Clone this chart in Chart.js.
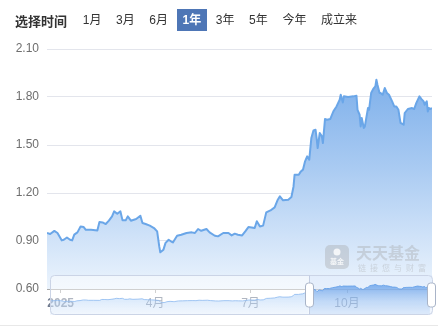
<!DOCTYPE html>
<html>
<head>
<meta charset="utf-8">
<title>净值走势</title>
<script src="https://cdn.jsdelivr.net/npm/chart.js@4.4.1/dist/chart.umd.min.js"></script>
<style>
  body { margin: 0; background: #fff; font-family: "Liberation Sans", "Noto Sans CJK SC", sans-serif; }
  #wrap { position: relative; width: 438px; height: 329px; overflow: hidden; }
  #nav-chart { position: absolute; left: 0; top: 0; }
  #mini-chart { position: absolute; left: 46px; top: 275px; }
  #period-bar { position: absolute; left: 15px; top: 9px; height: 22px; display: flex; align-items: center; font-size: 12px; color: #333; }
  #period-bar .title { font-size: 13px; font-weight: bold; margin-right: 9.7px; }
  #period-bar .item { padding: 0 6px; line-height: 22px; margin-right: 2.6px; }
  #period-bar .item.on { background: #4e76b6; color: #fff; font-weight: bold; }
  #bottom-line { position: absolute; left: 0; right: 0; top: 325px; height: 1px; background: #e8e8e8; }
</style>
</head>
<body>
<div id="wrap">
  <canvas id="nav-chart" width="438" height="329"></canvas>
  <canvas id="mini-chart" width="392" height="40"></canvas>
  <div id="period-bar"><span class="title">选择时间</span></div>
  <div id="bottom-line"></div>
</div>
<script>
// ========== Data ==========
// period selector
const periodLabels = ['1月', '3月', '6月', '1年', '3年', '5年', '今年', '成立来'];
const activePeriod = '1年';

// days counted from 2025-01-01, and unit NAV on that day
const navDays = [
  -13, -10, -6, -3, 1, 3, 6, 9, 11, 13,
  16, 19, 22, 24, 29, 35, 37, 40, 43, 46,
  49, 51, 54, 57, 59, 62, 64, 67, 72, 76,
  78, 81, 85, 89, 92, 94, 95, 98, 100, 103,
  106, 107, 111, 115, 120, 125, 128, 131, 134, 139,
  142, 147, 150, 155, 160, 163, 166, 169, 173, 176,
  179, 182, 185, 187, 190, 193, 196, 200, 204, 207,
  209, 212, 217, 220, 222, 223, 227, 229, 231, 233,
  235, 237, 239, 241, 243, 244, 245, 247, 249, 250,
  252, 254, 257, 260, 263, 266, 267, 269, 270, 274,
  279, 282, 283, 285, 286, 287, 289, 290, 293, 294,
  296, 298, 300, 301, 302, 304, 305, 307, 309, 311,
  313, 316, 318, 320, 322, 324, 327, 328, 331, 335,
  337, 339, 342, 344, 346, 347, 349, 350, 351, 352,
  354
];
const navValues = [
  0.950, 0.944, 0.963, 0.950, 0.904, 0.908, 0.922, 0.908, 0.904, 0.940,
  0.954, 0.990, 0.987, 0.970, 0.970, 0.966, 1.019, 1.016, 1.006, 1.027,
  1.054, 1.085, 1.070, 1.085, 1.029, 1.029, 1.054, 1.027, 1.037, 1.058,
  1.012, 1.006, 0.996, 0.981, 0.960, 0.866, 0.829, 0.846, 0.888, 0.908,
  0.894, 0.891, 0.933, 0.939, 0.950, 0.954, 0.950, 0.975, 0.964, 0.975,
  0.954, 0.933, 0.929, 0.950, 0.950, 0.935, 0.946, 0.939, 0.935, 0.960,
  0.987, 0.985, 0.981, 1.023, 0.991, 0.996, 1.079, 1.091, 1.110, 1.158,
  1.179, 1.154, 1.158, 1.175, 1.241, 1.314, 1.314, 1.335, 1.346, 1.398,
  1.429, 1.408, 1.544, 1.591, 1.595, 1.544, 1.481, 1.575, 1.554, 1.512,
  1.662, 1.658, 1.662, 1.710, 1.741, 1.783, 1.814, 1.766, 1.804, 1.800,
  1.804, 1.808, 1.720, 1.689, 1.616, 1.669, 1.606, 1.616, 1.731, 1.720,
  1.825, 1.850, 1.866, 1.908, 1.877, 1.825, 1.825, 1.814, 1.856, 1.825,
  1.814, 1.773, 1.741, 1.741, 1.720, 1.638, 1.627, 1.700, 1.725, 1.731,
  1.725, 1.762, 1.804, 1.787, 1.773, 1.752, 1.773, 1.710, 1.731, 1.725,
  1.730
];

// axis ticks
const xTickDays = [0, 90, 181, 273];
const xTickLabels = ['2025', '4月', '7月', '10月'];
const yTickValues = [0.60, 0.90, 1.20, 1.50, 1.80, 2.10];

// zoom slider window (days)
const sliderWindow = [237, 354];

// ========== Period bar ==========
const bar = document.getElementById('period-bar');
periodLabels.forEach(label => {
  const el = document.createElement('span');
  el.className = 'item' + (label === activePeriod ? ' on' : '');
  el.textContent = label;
  bar.appendChild(el);
});

// ========== Shared ==========
Chart.defaults.font.family = '"Liberation Sans", "Noto Sans CJK SC", sans-serif';
Chart.defaults.font.size = 12;

const navPoints = navDays.map((d, i) => ({ x: d, y: navValues[i] }));

function mainFill(c) {
  const area = c.chart.chartArea;
  if (!area) return 'rgba(0,0,0,0)';
  const g = c.chart.ctx.createLinearGradient(0, area.top, 0, area.bottom);
  g.addColorStop(0, 'rgb(112,167,232)');
  g.addColorStop(0.5, 'rgb(170,203,242)');
  g.addColorStop(1, 'rgb(236,244,253)');
  return g;
}

// ========== Watermark on the main chart ==========
const watermarkPlugin = {
  id: 'watermark',
  afterDatasetsDraw(chart) {
    const c = chart.ctx;
    const area = chart.chartArea;
    const wx = area.right - 107, wy = area.bottom - 44;
    c.save();
    c.fillStyle = 'rgba(160,160,160,0.35)';
    c.beginPath();
    c.roundRect(wx, wy, 24, 24, 5);
    c.fill();
    c.fillStyle = 'rgba(255,255,255,0.8)';
    c.font = 'bold 7px "Noto Sans CJK SC"';
    c.textAlign = 'center';
    c.textBaseline = 'middle';
    c.fillText('基金', wx + 12, wy + 16);
    c.beginPath();
    c.arc(wx + 12, wy + 7, 3.5, 0, Math.PI * 2);
    c.fill();
    c.fillStyle = 'rgba(160,160,160,0.35)';
    c.textAlign = 'left';
    c.textBaseline = 'alphabetic';
    c.font = 'bold 16px "Noto Sans CJK SC"';
    c.fillText('天天基金', wx + 31, wy + 14);
    c.font = '8px "Noto Sans CJK SC"';
    c.letterSpacing = '4px';
    c.fillText('链接您与财富', wx + 33, wy + 26);
    c.restore();
  }
};

// ========== Main chart ==========
new Chart(document.getElementById('nav-chart'), {
  type: 'line',
  data: {
    datasets: [{
      data: navPoints,
      borderColor: '#6aa6e8',
      borderWidth: 2,
      backgroundColor: mainFill,
      fill: 'start',
      pointRadius: 0,
      tension: 0,
      borderJoinStyle: 'round'
    }]
  },
  options: {
    responsive: false,
    animation: false,
    devicePixelRatio: 1,
    layout: { padding: { top: 49, right: 6, left: 0, bottom: 0 } },
    plugins: {
      legend: { display: false },
      tooltip: { enabled: false }
    },
    scales: {
      x: {
        type: 'linear',
        min: navDays[0],
        max: navDays[navDays.length - 1],
        afterBuildTicks: s => { s.ticks = xTickDays.map(v => ({ value: v })); },
        afterFit: s => { s.height = 40; },
        ticks: {
          autoSkip: false,
          maxRotation: 0,
          padding: 3,
          color: '#6f7a8e',
          font: c => ({ size: 12, weight: c.index === 0 ? 'bold' : 'normal' }),
          callback: (v, i) => xTickLabels[i]
        },
        grid: { drawOnChartArea: false, tickLength: 4, color: '#aaa' },
        border: { color: '#aaa' }
      },
      y: {
        min: 0.6,
        max: 2.1,
        afterBuildTicks: s => { s.ticks = yTickValues.map(v => ({ value: v })); },
        afterFit: s => { s.width = 47; },
        ticks: {
          padding: 8,
          color: '#6e6e6e',
          callback: v => v.toFixed(2)
        },
        grid: { color: '#e3e5ec', drawTicks: false },
        border: { display: false }
      }
    }
  },
  plugins: [watermarkPlugin]
});

// ========== Zoom slider (mini chart) ==========
const miniCanvas = document.getElementById('mini-chart');
const miniCtx = miniCanvas.getContext('2d');

const miniFill = miniCtx.createLinearGradient(0, 18, 0, 40);
miniFill.addColorStop(0, 'rgba(150,195,245,0.45)');
miniFill.addColorStop(1, 'rgba(190,215,248,0.2)');
const miniSelFill = miniCtx.createLinearGradient(0, 8, 0, 40);
miniSelFill.addColorStop(0, 'rgba(85,148,230,0.8)');
miniSelFill.addColorStop(0.55, 'rgba(130,180,238,0.45)');
miniSelFill.addColorStop(1, 'rgba(170,205,245,0.25)');

const sliderPlugin = {
  id: 'slider',
  beforeDatasetsDraw(chart) {
    const c = chart.ctx;
    const area = chart.chartArea;
    c.save();
    c.beginPath();
    c.roundRect(area.left + 0.5, 0.5, area.right - area.left, 39, 4);
    c.fillStyle = 'rgba(255,255,255,0.45)';
    c.fill();
    c.restore();
  },
  afterDatasetsDraw(chart) {
    const c = chart.ctx;
    const area = chart.chartArea;
    const xs = chart.scales.x;
    const ws = Math.round(xs.getPixelForValue(sliderWindow[0])) + 0.5;
    const we = Math.round(area.right) + 0.5;
    c.save();
    // selected window
    c.fillStyle = 'rgba(135,175,235,0.12)';
    c.fillRect(ws, 0.5, we - ws, 39);
    // outer frame
    c.beginPath();
    c.roundRect(area.left + 0.5, 0.5, area.right - area.left, 39, 4);
    c.strokeStyle = '#cbd4e6';
    c.lineWidth = 1;
    c.stroke();
    c.strokeStyle = '#c3cde2';
    c.beginPath();
    c.moveTo(ws, 0.5); c.lineTo(ws, 39.5);
    c.stroke();
    // handles
    [ws, we - 1].forEach(x => {
      c.beginPath();
      c.roundRect(x - 4, 8, 8, 24, 3);
      c.fillStyle = '#fff';
      c.fill();
      c.strokeStyle = '#a9b4c8';
      c.stroke();
    });
    c.restore();
  }
};

new Chart(miniCanvas, {
  type: 'line',
  data: {
    datasets: [{
      data: navPoints,
      borderWidth: 1,
      borderColor: 'rgba(140,185,240,0.8)',
      backgroundColor: miniFill,
      fill: 'start',
      pointRadius: 0,
      tension: 0,
      segment: {
        backgroundColor: s => navDays[s.p0DataIndex] >= sliderWindow[0] ? miniSelFill : undefined,
        borderColor: s => navDays[s.p0DataIndex] >= sliderWindow[0] ? 'rgba(100,160,232,0.9)' : undefined
      }
    }]
  },
  options: {
    responsive: false,
    animation: false,
    devicePixelRatio: 1,
    layout: { padding: { top: 0, right: 6, left: 4, bottom: 0 } },
    plugins: {
      legend: { display: false },
      tooltip: { enabled: false }
    },
    scales: {
      x: { type: 'linear', display: false, min: navDays[0], max: 356 },
      y: { type: 'linear', display: false, min: 0.11, max: 2.45 }
    }
  },
  plugins: [sliderPlugin]
});
</script>
</body>
</html>
